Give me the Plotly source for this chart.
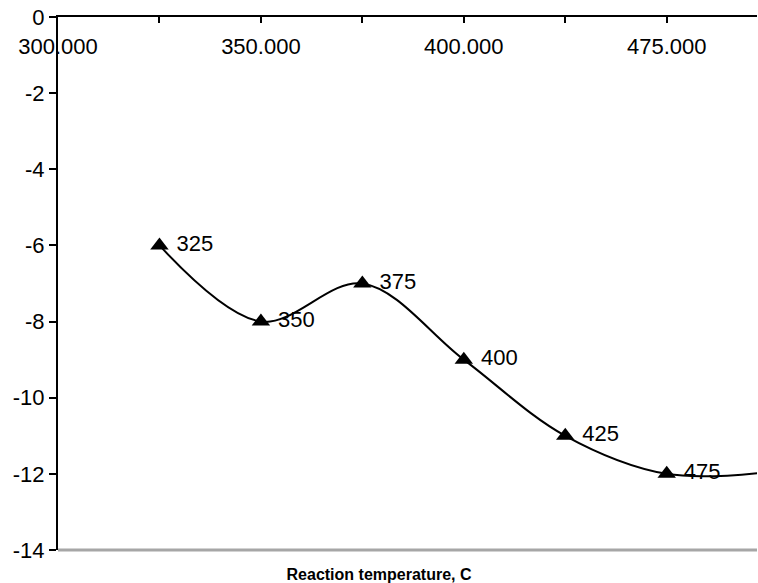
import plotly.graph_objects as go

# Category axis (reaction temperature, C)
categories = ["300", "325", "350", "375", "400", "425", "475", "500"]
tick_labels = ["300.000", "", "350.000", "", "400.000", "", "475.000", ""]

# Series
temps = ["325", "350", "375", "400", "425", "475", "500"]
values = [-6, -8, -7, -9, -11, -12, -11.95]
point_labels = ["325", "350", "375", "400", "425", "475", ""]

y_ticks = [0, -2, -4, -6, -8, -10, -12, -14]
y_tick_labels = ["0", "-2", "-4", "-6", "-8", "-10", "-12", "-14"]

FONT = "Liberation Sans, Arial, sans-serif"

fig = go.Figure()
fig.add_trace(go.Scatter(
    x=temps,
    y=values,
    mode="lines+markers+text",
    line=dict(color="black", width=2, shape="spline", smoothing=1),
    marker=dict(symbol="triangle-up", size=16, color="black"),
    text=point_labels,
    texttemplate="\u00a0%{text}",
    textposition="middle right",
    textfont=dict(family=FONT, size=22, color="black"),
    cliponaxis=True,
    showlegend=False,
    hoverinfo="skip",
))

fig.update_layout(
    width=758,
    height=583,
    margin=dict(l=58, r=1, t=17, b=33, autoexpand=False),
    paper_bgcolor="white",
    plot_bgcolor="white",
    font=dict(family=FONT, color="black"),
    title=dict(
        text="<b>Reaction temperature, C</b>",
        font=dict(family=FONT, size=16, color="black"),
        xref="container", x=0.5, xanchor="center",
        yref="container", y=0.015, yanchor="middle",
    ),
    xaxis=dict(
        type="category",
        categoryorder="array",
        categoryarray=categories,
        tickmode="array",
        tickvals=categories,
        ticktext=tick_labels,
        range=[0, 6.89],
        side="top",
        automargin=False,
        showline=True,
        linecolor="black",
        linewidth=2,
        ticks="inside",
        ticklen=6,
        tickwidth=2,
        tickcolor="black",
        ticklabelposition="inside",
        ticklabeloverflow="allow",
        ticklabelstandoff=17,
        tickfont=dict(family=FONT, size=22, color="black"),
        showgrid=False,
        zeroline=False,
    ),
    yaxis=dict(
        range=[-14, 0],
        tickmode="array",
        tickvals=y_ticks,
        ticktext=y_tick_labels,
        automargin=False,
        showline=True,
        linecolor="black",
        linewidth=2,
        ticks="outside",
        ticklen=7,
        tickwidth=2,
        tickcolor="black",
        tickfont=dict(family=FONT, size=22, color="black"),
        showgrid=False,
        zeroline=False,
    ),
    shapes=[dict(
        type="line", xref="paper", yref="paper",
        x0=0, x1=1, y0=0, y1=0,
        line=dict(color="#a6a6a6", width=3),
    )],
)

fig.write_html(
    "out.html",
    config={"displayModeBar": False},
    post_script="document.body.style.margin='0';document.body.style.overflow='hidden';",
)
